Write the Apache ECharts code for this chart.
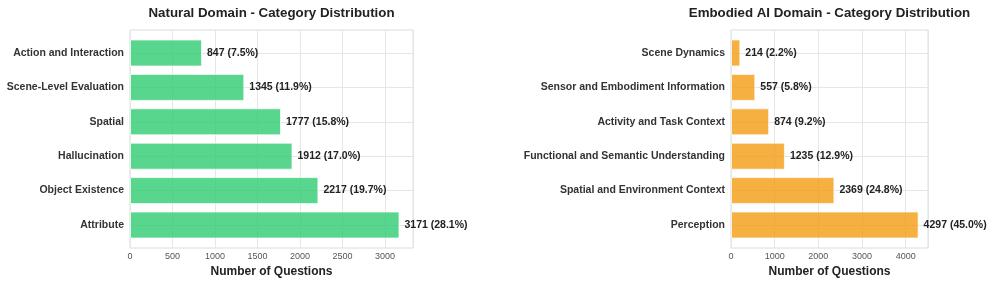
<!DOCTYPE html>
<html>
<head>
<meta charset="utf-8">
<script src="https://cdn.jsdelivr.net/npm/echarts@6/dist/echarts.min.js"></script>
<style>
  html, body { margin: 0; padding: 0; background: #fff; }
  #chart { width: 992px; height: 281px; }
</style>
</head>
<body>
<div id="chart"></div>
<script>
// Natural domain
const naturalCategories = ['Action and Interaction', 'Scene-Level Evaluation', 'Spatial', 'Hallucination', 'Object Existence', 'Attribute'];
const naturalValues = [847, 1345, 1777, 1912, 2217, 3171];
const naturalPercents = ['7.5', '11.9', '15.8', '17.0', '19.7', '28.1'];
const naturalTicks = [0, 500, 1000, 1500, 2000, 2500, 3000];

// Embodied AI domain
const embodiedCategories = ['Scene Dynamics', 'Sensor and Embodiment Information', 'Activity and Task Context', 'Functional and Semantic Understanding', 'Spatial and Environment Context', 'Perception'];
const embodiedValues = [214, 557, 874, 1235, 2369, 4297];
const embodiedPercents = ['2.2', '5.8', '9.2', '12.9', '24.8', '45.0'];
const embodiedTicks = [0, 1000, 2000, 3000, 4000];

const FONT = '"Liberation Sans", Arial, sans-serif';
const GRID_LINE = '#e6e6e6';

const panels = [
  { title: 'Natural Domain - Category Distribution', cats: naturalCategories, vals: naturalValues, pcts: naturalPercents,
    ticks: naturalTicks, max: 3330, left: 130, right: 579, color: 'rgba(46,204,113,0.8)' },
  { title: 'Embodied AI Domain - Category Distribution', cats: embodiedCategories, vals: embodiedValues, pcts: embodiedPercents,
    ticks: embodiedTicks, max: 4512, left: 731, right: 64, color: 'rgba(243,156,18,0.8)' }
];

const option = { animation: false, title: [], grid: [], xAxis: [], yAxis: [], series: [] };

panels.forEach((p, i) => {
  const step = p.ticks[1] - p.ticks[0];
  const frameIdx = i * 2, barIdx = i * 2 + 1;
  const width = 992 - p.left - p.right;

  option.title.push({
    text: p.title,
    left: p.left + width / 2, top: 7, textAlign: 'center', padding: 0,
    textStyle: { fontFamily: FONT, fontSize: 13.3, fontWeight: 'bold', color: '#222' }
  });

  // frame grid: border, vertical grid lines, x labels
  option.grid.push({ left: p.left, right: p.right, top: 30, bottom: 33, outerBoundsMode: 'none',
    show: true, borderColor: '#dcdcdc', borderWidth: 1, backgroundColor: 'transparent' });
  // bar grid: spans from first to last bar centre
  option.grid.push({ left: p.left, right: p.right, top: 53, bottom: 56, outerBoundsMode: 'none' });

  option.xAxis.push({
    type: 'value', gridIndex: frameIdx, min: 0, max: p.max, interval: step,
    axisLine: { show: false }, axisTick: { show: false },
    splitLine: { show: true, lineStyle: { color: GRID_LINE, width: 1 } },
    axisLabel: {
      margin: 4, fontFamily: FONT, fontSize: 9, color: '#555',
      showMaxLabel: false,
      formatter: v => (p.ticks.includes(v) ? String(v) : '')
    },
    name: 'Number of Questions', nameLocation: 'middle', nameGap: 17,
    nameTextStyle: { fontFamily: FONT, fontSize: 12, fontWeight: 'bold', color: '#222' }
  });
  option.xAxis.push({
    type: 'value', gridIndex: barIdx, min: 0, max: p.max, show: false
  });

  option.yAxis.push({ type: 'value', gridIndex: frameIdx, show: false, splitLine: { show: false } });
  option.yAxis.push({
    type: 'category', gridIndex: barIdx, data: p.cats, inverse: true, boundaryGap: false,
    axisLine: { show: false }, axisTick: { show: false },
    splitLine: { show: true, lineStyle: { color: GRID_LINE, width: 1 } },
    axisLabel: { margin: 6, fontFamily: FONT, fontSize: 10.5, fontWeight: 'bold', color: '#333' }
  });

  option.series.push({
    type: 'bar', xAxisIndex: barIdx, yAxisIndex: barIdx, data: p.vals, barWidth: 27,
    itemStyle: { color: p.color, borderColor: 'rgba(255,255,255,0.7)', borderWidth: 1 },
    label: {
      show: true, position: 'right', distance: 5,
      fontFamily: FONT, fontSize: 10.5, fontWeight: 'bold', color: '#222',
      formatter: d => d.value + ' (' + p.pcts[d.dataIndex] + '%)'
    }
  });
});

const chart = echarts.init(document.getElementById('chart'), null, { renderer: 'canvas' });
chart.setOption(option);
</script>
</body>
</html>
